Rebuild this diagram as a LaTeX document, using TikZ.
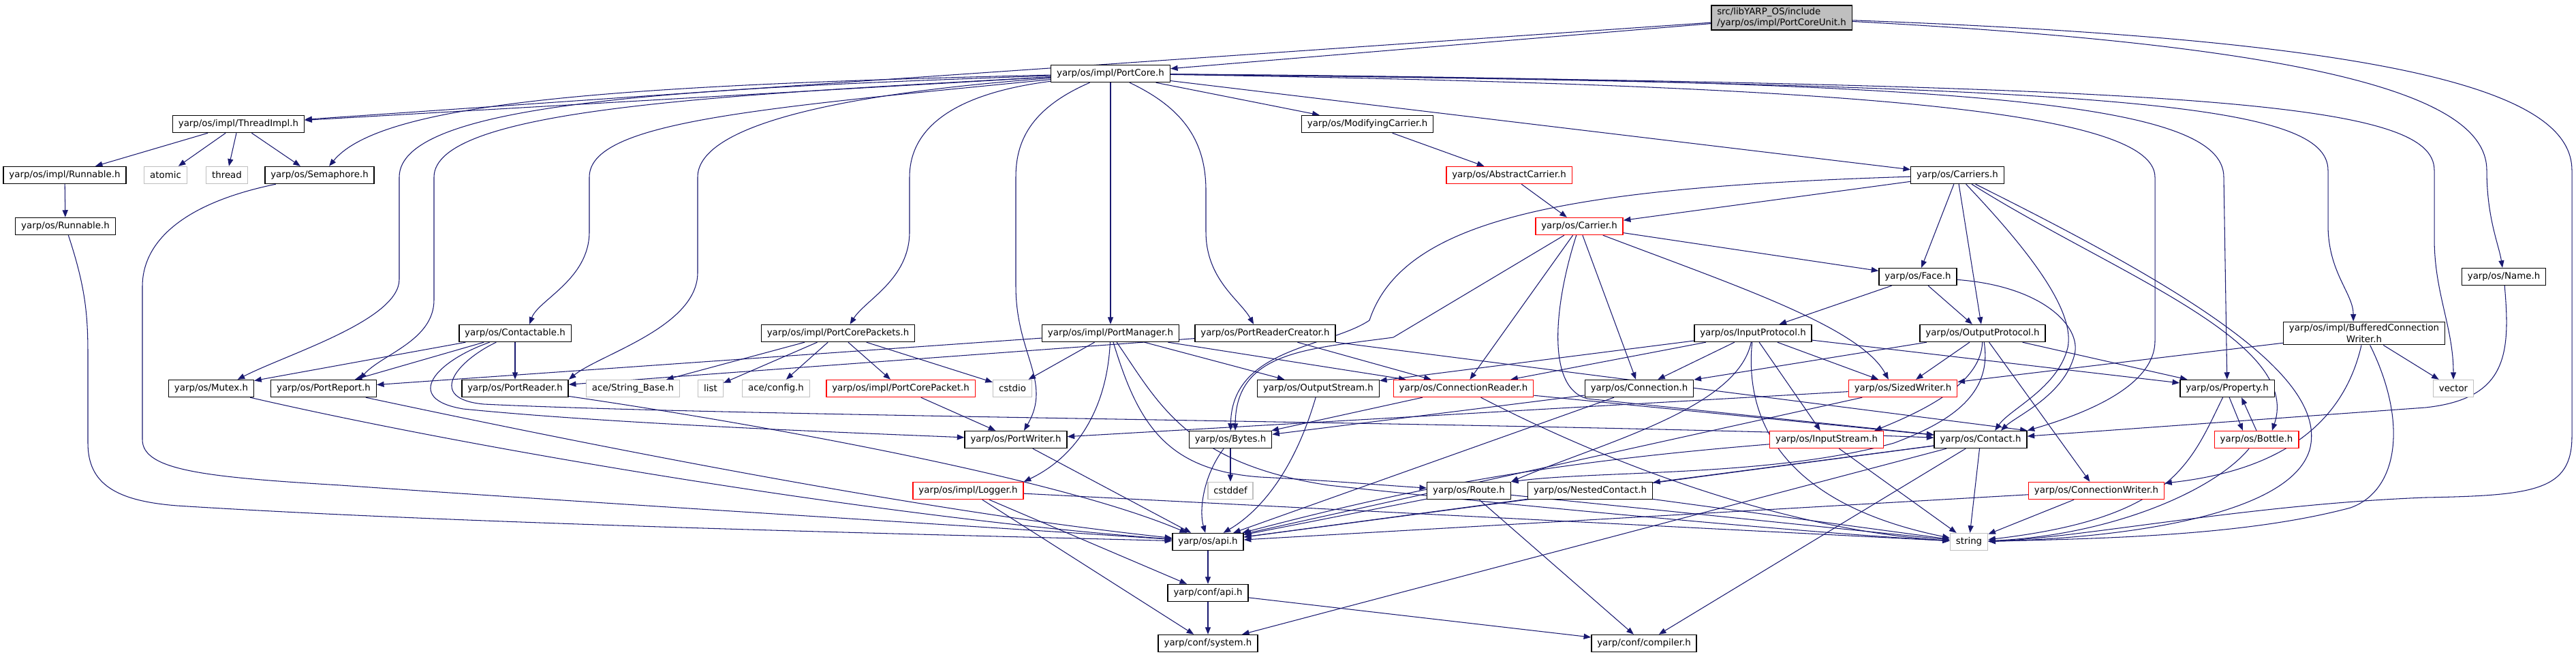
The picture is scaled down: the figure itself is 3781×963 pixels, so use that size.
\documentclass[tikz,border=0pt]{standalone}
\usepackage{fontspec}
\setmainfont{DejaVu Sans}
\usepackage{xcolor}
\usepackage{tikz}
\usetikzlibrary{arrows.meta,backgrounds}

\definecolor{depblue}{RGB}{25,25,112}
\definecolor{extgray}{RGB}{191,191,191}

\begin{document}
\begin{tikzpicture}[
  x=0.01cm, y=-0.01cm,
  box/.style={draw=black, line width=0.4pt, fill=white, align=center, minimum height=0.25cm, inner xsep=2.4pt, inner ysep=1pt, font=\fontsize{3.8}{4.6}\selectfont},
  extbox/.style={box, draw=extgray},
  redbox/.style={box, draw=red},
  dep/.style={-{Triangle[length=3pt, width=2.3pt]}, draw=depblue, line width=0.3pt}
]
\useasboundingbox (0,0) rectangle (3781,963);

% top rows
\node[box, fill=extgray, align=left] (unit) at (2615,26) {src/libYARP\_OS/include\\/yarp/os/impl/PortCoreUnit.h};
\node[box] (core) at (1630,108) {yarp/os/impl/PortCore.h};
\node[box] (thimpl) at (350,182) {yarp/os/impl/ThreadImpl.h};
\node[box] (modcar) at (2007,182) {yarp/os/ModifyingCarrier.h};
\node[box] (irun) at (95,257) {yarp/os/impl/Runnable.h};
\node[extbox] (atomic) at (243,257) {atomic};
\node[extbox] (thread) at (333,257) {thread};
\node[box] (sema) at (469,257) {yarp/os/Semaphore.h};
\node[redbox] (abscar) at (2215,257) {yarp/os/AbstractCarrier.h};
\node[box] (carriers) at (2873,257) {yarp/os/Carriers.h};
\node[box] (orun) at (96,332) {yarp/os/Runnable.h};
\node[redbox] (carrier) at (2318,332) {yarp/os/Carrier.h};
\node[box] (face) at (2815,406) {yarp/os/Face.h};
\node[box] (name) at (3675,406) {yarp/os/Name.h};
% middle rows
\node[box] (ctable) at (756,489) {yarp/os/Contactable.h};
\node[box] (packets) at (1230,489) {yarp/os/impl/PortCorePackets.h};
\node[box] (pman) at (1630,489) {yarp/os/impl/PortManager.h};
\node[box] (prc) at (1857,489) {yarp/os/PortReaderCreator.h};
\node[box] (inproto) at (2573,489) {yarp/os/InputProtocol.h};
\node[box] (outproto) at (2910,489) {yarp/os/OutputProtocol.h};
\node[box] (bcw) at (3470,489) {yarp/os/impl/BufferedConnection\\Writer.h};
\node[box] (mutex) at (310,570) {yarp/os/Mutex.h};
\node[box] (preport) at (475,570) {yarp/os/PortReport.h};
\node[box] (preader) at (756,570) {yarp/os/PortReader.h};
\node[extbox] (strbase) at (929,570) {ace/String\_Base.h};
\node[extbox] (list) at (1043,570) {list};
\node[extbox] (aceconf) at (1139,570) {ace/config.h};
\node[redbox] (packet) at (1322,570) {yarp/os/impl/PortCorePacket.h};
\node[extbox] (cstdio) at (1486,570) {cstdio};
\node[box] (ostream) at (1935,570) {yarp/os/OutputStream.h};
\node[redbox] (creader) at (2148,570) {yarp/os/ConnectionReader.h};
\node[box] (conn) at (2406,570) {yarp/os/Connection.h};
\node[redbox] (swriter) at (2793,570) {yarp/os/SizedWriter.h};
\node[box] (property) at (3269,570) {yarp/os/Property.h};
\node[extbox] (vector) at (3601,570) {vector};
\node[box] (pwriter) at (1491,645) {yarp/os/PortWriter.h};
\node[box] (bytes) at (1806,645) {yarp/os/Bytes.h};
\node[redbox] (istream) at (2681,645) {yarp/os/InputStream.h};
\node[box] (contact) at (2907,645) {yarp/os/Contact.h};
\node[redbox] (bottle) at (3312,645) {yarp/os/Bottle.h};
% bottom rows
\node[redbox] (logger) at (1421,720) {yarp/os/impl/Logger.h};
\node[extbox] (cstddef) at (1806,720) {cstddef};
\node[box] (route) at (2156,720) {yarp/os/Route.h};
\node[box] (nested) at (2334,720) {yarp/os/NestedContact.h};
\node[redbox] (cwriter) at (3077,720) {yarp/os/ConnectionWriter.h};
\node[box] (osapi) at (1773,795) {yarp/os/api.h};
\node[extbox] (string) at (2890,795) {string};
\node[box] (confapi) at (1773,870) {yarp/conf/api.h};
\node[box] (system) at (1773,944) {yarp/conf/system.h};
\node[box] (compiler) at (2413,944) {yarp/conf/compiler.h};

\begin{scope}[on background layer]
% PortCoreUnit
\draw[dep] (unit) -- (core);
\draw[dep] (unit) -- (thimpl);
\draw[dep] (unit) .. controls (3450,70) and (3650,150) .. (3650,250) .. controls (3650,320) and (3668,360) .. (name);
\draw[dep] (unit) .. controls (3550,60) and (3775,140) .. (3775,250) -- (3775,640) .. controls (3775,720) and (3720,727) .. (3560,730) .. controls (3300,740) and (3050,790) .. (string);

% PortCore, left side
\draw[dep] (core) -- (thimpl);
\draw[dep] (core) .. controls (900,125) and (560,150) .. ([xshift=4pt]sema.north);
\draw[dep] (core) .. controls (1000,130) and (586,150) .. (586,260) -- (586,410) .. controls (586,470) and (420,520) .. ([xshift=11pt]mutex.north);
\draw[dep] (core) .. controls (1050,140) and (637,160) .. (637,260) -- (637,440) .. controls (637,500) and (560,520) .. ([xshift=15pt]preport.north);
\draw[dep] (core) .. controls (1100,160) and (865,180) .. (865,260) -- (865,340) .. controls (865,410) and (790,440) .. ([xshift=6pt]ctable.north);
\draw[dep] (core) .. controls (1200,140) and (1024,190) .. (1024,260) -- (1024,400) .. controls (1024,480) and (880,520) .. (preader.north east);
\draw[dep] (core) .. controls (1380,140) and (1335,200) .. (1335,260) -- (1335,340) .. controls (1335,410) and (1270,440) .. ([xshift=5pt]packets.north);
\draw[dep] (core) .. controls (1510,160) and (1491,210) .. (1491,260) -- (1491,420) .. controls (1491,520) and (1545,560) .. ([xshift=3.4pt]pwriter.north);
\draw[dep] (core) -- (pman);
\draw[dep] (core) .. controls (1740,160) and (1770,210) .. (1770,280) -- (1770,340) .. controls (1770,410) and (1820,440) .. ([xshift=-4.8pt]prc.north);
\draw[dep] (core) -- ([xshift=-20pt]modcar.north);
\draw[dep] (core) -- (carriers);
% PortCore, right side
\draw[dep] (core) .. controls (2700,125) and (3163,160) .. (3163,260) -- (3163,500) .. controls (3163,570) and (3050,610) .. (contact.north east);
\draw[dep] (core) .. controls (2900,118) and (3264,150) .. (3264,260) -- (property);
\draw[dep] (core) .. controls (3100,125) and (3417,150) .. (3417,250) -- (3417,330) .. controls (3417,400) and (3454,430) .. ([xshift=-4.5pt]bcw.north);
\draw[dep] (core) .. controls (3250,125) and (3573,150) .. (3573,250) -- (3573,350) .. controls (3573,430) and (3601,480) .. (vector);

% ThreadImpl
\draw[dep] (thimpl) -- (irun);
\draw[dep] (thimpl) -- (atomic);
\draw[dep] (thimpl) -- (thread);
\draw[dep] (thimpl) -- ([xshift=-8pt]sema.north);
\draw[dep] (irun) -- (orun);
\draw[dep] (orun) .. controls (125,420) and (129,460) .. (129,520) -- (129,650) .. controls (129,710) and (170,735) .. (260,742) .. controls (700,770) and (1400,785) .. (osapi);
\draw[dep] (sema) .. controls (260,300) and (209,360) .. (209,420) -- (209,645) .. controls (209,690) and (300,700) .. (500,712) .. controls (900,740) and (1400,770) .. (osapi);

% Contactable
\draw[dep] (ctable) -- (mutex);
\draw[dep] (ctable) -- (preport);
\draw[dep] (ctable) -- (preader);
\draw[dep] (ctable) .. controls (640,530) and (590,585) .. (680,600) .. controls (900,622) and (1250,635) .. (pwriter);
\draw[dep] (ctable) .. controls (670,530) and (625,585) .. (710,593) .. controls (1100,612) and (2300,620) .. (contact);
\draw[dep] (mutex) .. controls (700,660) and (1300,760) .. (osapi);
\draw[dep] (preport) .. controls (850,650) and (1350,750) .. (osapi);
\draw[dep] (preader) .. controls (1100,620) and (1550,700) .. (osapi);

% PortCorePackets
\draw[dep] (packets) -- (strbase);
\draw[dep] (packets) -- (list);
\draw[dep] (packets) -- (aceconf);
\draw[dep] (packets) -- (packet);
\draw[dep] (packets) -- (cstdio);
\draw[dep] (packet) -- (pwriter);
\draw[dep] (pwriter) -- (osapi);

% PortManager
\draw[dep] (pman) -- (preport);
\draw[dep] (pman) -- (cstdio);
\draw[dep] (pman) .. controls (1625,600) and (1580,670) .. (logger.north east);
\draw[dep] (pman) -- (ostream);
\draw[dep] (pman) -- (creader);
\draw[dep] (pman) .. controls (1670,620) and (1710,690) .. (1850,700) .. controls (1950,705) and (2030,712) .. (route);
\draw[dep] (pman) .. controls (1700,590) and (1740,680) .. (1950,712) .. controls (2300,750) and (2700,785) .. (string);

% PortReaderCreator
\draw[dep] (prc) -- (preader);
\draw[dep] (prc) -- (creader);
\draw[dep] (prc) -- (contact.north east);

% carriers
\draw[dep] (modcar) -- (abscar);
\draw[dep] (abscar) -- (carrier);
\draw[dep] (carriers) -- (carrier);
\draw[dep] (carriers) .. controls (2300,275) and (2060,320) .. (2010,470) .. controls (1950,510) and (1808,510) .. (bytes);
\draw[dep] (carriers) -- (face);
\draw[dep] (carriers) -- (outproto);
\draw[dep] (carriers) .. controls (2990,380) and (3045,460) .. (3035,510) .. controls (3020,570) and (2950,600) .. ([xshift=6pt]contact.north);
\draw[dep] (carriers) .. controls (3100,400) and (3380,500) .. ([xshift=6.5pt]bottle.north);
\draw[dep] (carriers) .. controls (3200,420) and (3420,550) .. (3390,660) .. controls (3360,760) and (3100,790) .. (string);
\draw[dep] (carrier) -- (face);
\draw[dep] (carrier) -- (2045,495) .. controls (1920,512) and (1814,515) .. ([xshift=2pt]bytes.north);
\draw[dep] (carrier) -- (creader);
\draw[dep] (carrier) -- (conn);
\draw[dep] (carrier) .. controls (2550,420) and (2730,480) .. ([xshift=-6pt]swriter.north);
\draw[dep] (carrier) .. controls (2280,450) and (2270,570) .. (2330,585) -- (contact);

% Face and Name
\draw[dep] (face) -- (inproto);
\draw[dep] (face) -- (outproto);
\draw[dep] (face) .. controls (3000,420) and (3055,480) .. (3045,520) .. controls (3030,580) and (2960,610) .. ([xshift=8.5pt]contact.north);
\draw[dep] (name) .. controls (3685,520) and (3680,585) .. (3560,598) -- (contact);

% InputProtocol
\draw[dep] (inproto) -- (ostream);
\draw[dep] (inproto) -- (creader);
\draw[dep] (inproto) -- (conn);
\draw[dep] (inproto) .. controls (2550,600) and (2350,650) .. (route.north east);
\draw[dep] (inproto) .. controls (2560,620) and (2620,740) .. (string);
\draw[dep] (inproto) -- (istream);
\draw[dep] (inproto) -- (swriter);
\draw[dep] (inproto) -- (property);

% OutputProtocol
\draw[dep] (outproto) -- (conn);
\draw[dep] (outproto) -- (swriter);
\draw[dep] (outproto) .. controls (2908,560) and (2830,600) .. ([xshift=20pt]istream.north);
\draw[dep] (outproto) .. controls (2925,580) and (2860,620) .. (2780,650) .. controls (2600,700) and (2350,690) .. (route.north east);
\draw[dep] (outproto) -- (cwriter);
\draw[dep] (outproto) -- (property);

% BufferedConnectionWriter
\draw[dep] (bcw) -- (swriter);
\draw[dep] (bcw) .. controls (3440,620) and (3350,690) .. (cwriter);
\draw[dep] (bcw) -- (vector);
\draw[dep] (bcw) .. controls (3535,620) and (3520,720) .. (3450,745) .. controls (3300,785) and (3100,790) .. (string);

% Property, Bottle
\draw[dep] ([xshift=0.9pt]property.south) -- ([xshift=-5.7pt]bottle.north);
\draw[dep] (bottle.north) -- ([xshift=6pt]property.south);
\draw[dep] (property) .. controls (3215,680) and (3190,760) .. (string);
\draw[dep] (bottle) .. controls (3250,720) and (3100,785) .. (string);

% lower layers
\draw[dep] (ostream) .. controls (1900,690) and (1850,750) .. (osapi);
\draw[dep] (creader) -- (bytes);
\draw[dep] (creader) -- (contact);
\draw[dep] (creader) .. controls (2400,700) and (2650,780) .. (string);
\draw[dep] (conn) -- (bytes);
\draw[dep] (conn) -- (osapi);
\draw[dep] (swriter) -- (pwriter);
\draw[dep] (swriter) -- (osapi);
\draw[dep] (bytes) -- (cstddef);
\draw[dep] (bytes) .. controls (1765,700) and (1760,750) .. (osapi);
\draw[dep] (istream) .. controls (2250,680) and (2060,720) .. (osapi);
\draw[dep] (istream) -- (string);
\draw[dep] (contact) -- (nested);
\draw[dep] (contact) -- (osapi);
\draw[dep] (contact) -- (string);
\draw[dep] (contact) -- (compiler);
\draw[dep] (contact) -- (system);
\draw[dep] (nested) -- (osapi);
\draw[dep] (nested) -- (string);
\draw[dep] (route) -- (osapi);
\draw[dep] (route) -- (string);
\draw[dep] (route) -- (compiler);
\draw[dep] (cwriter) -- (osapi);
\draw[dep] (cwriter) -- (string);
\draw[dep] (logger) -- (string);
\draw[dep] (logger) -- (confapi);
\draw[dep] (logger) -- (system);
\draw[dep] (osapi) -- (confapi);
\draw[dep] (confapi) -- (system);
\draw[dep] (confapi) -- (compiler);
\end{scope}
\end{tikzpicture}
\end{document}
